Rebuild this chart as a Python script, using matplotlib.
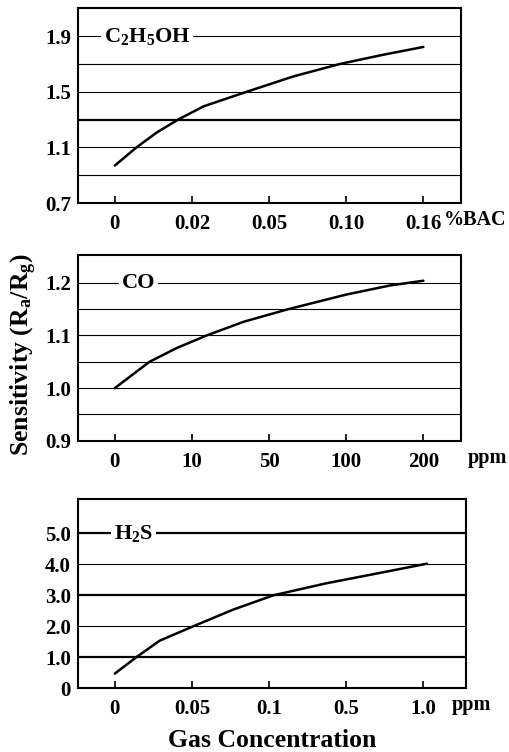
import numpy as np
import matplotlib
matplotlib.use('Agg')
import matplotlib.pyplot as plt

plt.rcParams['font.family'] = ['Liberation Serif', 'DejaVu Serif']
plt.rcParams['font.weight'] = 'bold'
plt.rcParams['mathtext.fontset'] = 'custom'
plt.rcParams['mathtext.rm'] = 'Liberation Serif:bold'
plt.rcParams['mathtext.it'] = 'Liberation Serif:bold'
plt.rcParams['mathtext.bf'] = 'Liberation Serif:bold'

# ---- data (x is the tick index, ticks are not to scale)
etoh_ticks = ['0', '0.02', '0.05', '0.10', '0.16']
etoh_x = [0, 0.28, 0.54, 0.82, 1.15, 1.71, 2.32, 2.92, 3.48, 4.0]
etoh_y = [0.97, 1.10, 1.206, 1.30, 1.395, 1.50, 1.611, 1.70, 1.766, 1.822]

co_ticks = ['0', '10', '50', '100', '200']
co_x = [0, 0.45, 0.8, 1.19, 1.67, 2.25, 3.01, 3.57, 4.0]
co_y = [1.0, 1.05, 1.076, 1.10, 1.126, 1.15, 1.178, 1.195, 1.204]

h2s_ticks = ['0', '0.05', '0.1', '0.5', '1.0']
h2s_x = [0, 0.28, 0.58, 1.02, 1.54, 2.06, 2.75, 3.27, 4.05]
h2s_y = [0.47, 1.0, 1.53, 2.0, 2.54, 3.0, 3.39, 3.64, 4.02]

panels = [
    dict(name=r'C$_2$H$_5$OH', ticks=etoh_ticks, x=etoh_x, y=etoh_y, unit='%BAC',
         ylim=(0.7, 2.1), yticks=[0.7, 1.1, 1.5, 1.9], ytl=['0.7', '1.1', '1.5', '1.9'],
         grid=[0.9, 1.1, 1.3, 1.5, 1.7, 1.9], thick=[1.3],
         label_x=-0.14, label_y=1.9, unit_pos=(507 / 509, 'right'), xlim=(-0.48, 4.49),
         rect=[0.153, 0.730, 0.753, 0.259]),
    dict(name='CO', ticks=co_ticks, x=co_x, y=co_y, unit='ppm',
         ylim=(0.9, 1.253), yticks=[0.9, 1.0, 1.1, 1.2], ytl=['0.9', '1.0', '1.1', '1.2'],
         grid=[0.95, 1.0, 1.05, 1.1, 1.15, 1.2], thick=[],
         label_x=0.09, label_y=1.2, unit_pos=(507 / 509, 'right'), xlim=(-0.48, 4.49),
         rect=[0.153, 0.414, 0.753, 0.247]),
    dict(name=r'H$_2$S', ticks=h2s_ticks, x=h2s_x, y=h2s_y, unit='ppm',
         ylim=(0, 6.1), yticks=[0, 1, 2, 3, 4, 5], ytl=['0', '1.0', '2.0', '3.0', '4.0', '5.0'],
         grid=[1, 2, 3, 4, 5], thick=[1, 3, 5],
         label_x=-0.01, label_y=5.0, unit_pos=(452 / 509, 'left'), xlim=(-0.48, 4.56),
         rect=[0.153, 0.085, 0.763, 0.251]),
]

fig = plt.figure(figsize=(5.09, 7.52), dpi=100)

for p in panels:
    ax = fig.add_axes(p['rect'])
    for g in p['grid']:
        lw = 1.6 if g in p['thick'] else 0.8
        ax.axhline(g, color='black', lw=lw, zorder=1)
    ax.plot(p['x'], p['y'], color='black', lw=1.8, zorder=3,
            solid_capstyle='round', solid_joinstyle='round')
    ax.text(p['label_x'], p['label_y'], p['name'], fontsize=16, fontweight='bold',
            ha='left', va='center', zorder=4,
            bbox=dict(facecolor='white', edgecolor='none', pad=2))
    ax.set_xlim(p['xlim'])
    ax.set_ylim(p['ylim'])
    ax.set_xticks(range(len(p['ticks'])))
    ax.set_xticklabels(p['ticks'])
    ax.set_yticks(p['yticks'])
    ax.set_yticklabels(p['ytl'])
    ax.tick_params(axis='x', direction='in', length=5, width=1.2, pad=8, labelsize=15)
    ax.tick_params(axis='y', length=0, pad=5, labelsize=15)
    for lab in ax.get_xticklabels() + ax.get_yticklabels():
        lab.set_fontweight('bold')
    for s in ax.spines.values():
        s.set_linewidth(1.5)
    ux, ha = p['unit_pos']
    ax.annotate(p['unit'], xy=(ux, 0), xycoords=('figure fraction', 'axes fraction'),
                xytext=(0, -17), textcoords='offset pixels', ha=ha, va='center',
                fontsize=14.5, fontweight='bold', annotation_clip=False)

fig.text(0.047, 0.528, r'Sensitivity (R$_\mathrm{a}$/R$_\mathrm{g}$)', rotation=90,
         ha='center', va='center', fontsize=18.5, fontweight='bold')
fig.text(272 / 509, 0.015, 'Gas Concentration', ha='center', va='center',
         fontsize=18.5, fontweight='bold')

fig.savefig('out.png', dpi=100)
